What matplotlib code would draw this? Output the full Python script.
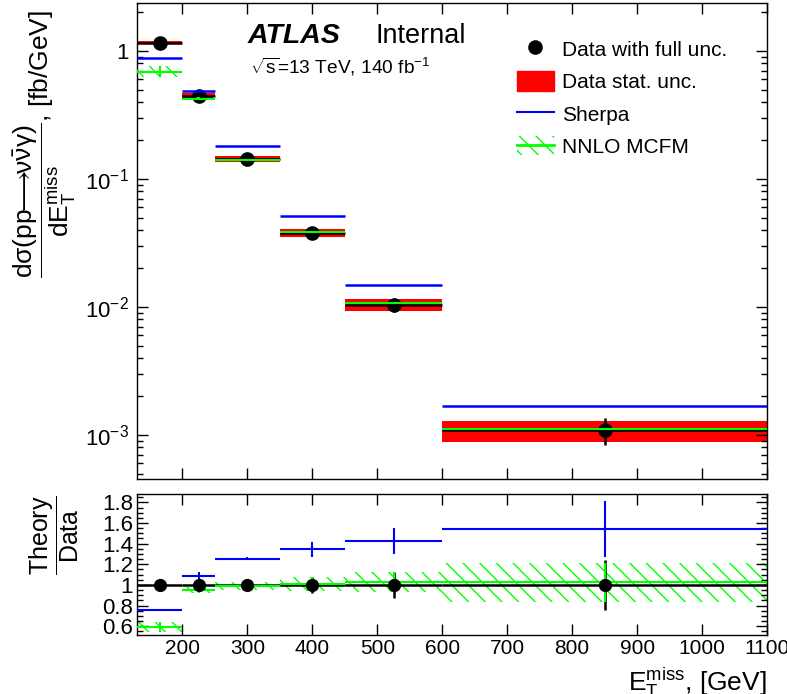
import numpy as np
import matplotlib
matplotlib.use("Agg")
import matplotlib.pyplot as plt
from matplotlib.lines import Line2D
from matplotlib.patches import Patch
from matplotlib.ticker import LogLocator, FuncFormatter, MultipleLocator, NullLocator, FixedLocator

plt.rcParams['font.family'] = ['Liberation Sans', 'DejaVu Sans']
plt.rcParams['mathtext.fontset'] = 'custom'
plt.rcParams['mathtext.rm'] = 'Liberation Sans'
plt.rcParams['mathtext.it'] = 'Liberation Sans:italic'
plt.rcParams['mathtext.bf'] = 'Liberation Sans:bold'
plt.rcParams['mathtext.sf'] = 'Liberation Sans'
plt.rcParams['hatch.color'] = '#00ff00'
plt.rcParams['hatch.linewidth'] = 1.0

# bin edges of E_T^miss [GeV]
bin_edges = [130, 200, 250, 350, 450, 600, 1100]

# measured cross section [fb/GeV] and relative uncertainties
data_xsec = [1.16, 0.447, 0.143, 0.038, 0.0104, 0.00109]
data_stat_rel = [0.025, 0.05, 0.05, 0.07, 0.10, 0.19]
data_tot_rel = [0.03, 0.06, 0.05, 0.08, 0.125, 0.24]

# theory / data ratios
sherpa_ratio = [0.755, 1.09, 1.255, 1.345, 1.425, 1.545]
sherpa_ratio_err = [0.005, 0.032, 0.015, 0.075, 0.125, 0.27]
nnlo_ratio = [0.595, 0.95, 0.99, 1.01, 1.03, 1.025]
nnlo_ratio_err = [0.05, 0.03, 0.035, 0.07, 0.10, 0.19]
# NNLO band drawn in the upper panel (relative)
nnlo_main_rel = [0.10, 0.02, 0.02, 0.02, 0.02, 0.02]

GREEN = '#00ff00'

edges = np.array(bin_edges, dtype=float)
lo, hi = edges[:-1], edges[1:]
centers = 0.5 * (lo + hi)
half = 0.5 * (hi - lo)
data = np.array(data_xsec)
stat = data * np.array(data_stat_rel)
tot = data * np.array(data_tot_rel)
sherpa = data * np.array(sherpa_ratio)
nnlo = data * np.array(nnlo_ratio)
nnlo_err = nnlo * np.array(nnlo_main_rel)

fig = plt.figure(figsize=(7.87, 6.94), dpi=100)
ax1 = fig.add_axes([0.17408, 0.3098, 0.8005, 0.68588])
ax2 = fig.add_axes([0.17408, 0.08501, 0.8005, 0.20317])

# main panel
ax1.bar(centers, 2 * stat, bottom=data - stat, width=hi - lo, color='red', lw=0, zorder=1)
ax1.errorbar(centers, data, xerr=half, yerr=tot, fmt='o', color='black', ms=9.5,
             lw=1.8, capsize=0, zorder=2)
for i in range(len(centers)):
    ax1.fill_between([lo[i], hi[i]], nnlo[i] - nnlo_err[i], nnlo[i] + nnlo_err[i],
                     facecolor='none', edgecolor=GREEN, hatch='\\\\', lw=0, zorder=3)
ax1.errorbar(centers, nnlo, xerr=half, yerr=nnlo_err, fmt='none', color=GREEN,
             lw=1.5, capsize=0, zorder=4)
ax1.hlines(sherpa, lo, hi, color='blue', lw=1.8, zorder=5)

ax1.set_yscale('log')
ax1.set_xlim(130, 1100)
ax1.set_ylim(4.53e-4, 2.37)
ax1.yaxis.set_major_locator(LogLocator(base=10, numticks=10))
ax1.yaxis.set_minor_locator(LogLocator(base=10, subs=np.arange(2, 10), numticks=20))
ax1.yaxis.set_major_formatter(FuncFormatter(
    lambda v, p: '1' if abs(v - 1) < 1e-9 else r'$10^{%d}$' % int(round(np.log10(v)))))
ax1.xaxis.set_major_locator(MultipleLocator(100))
ax1.xaxis.set_minor_locator(NullLocator())
ax1.tick_params(axis='x', labelbottom=False)

# ratio panel
for i in range(len(centers)):
    ax2.fill_between([lo[i], hi[i]], nnlo_ratio[i] - nnlo_ratio_err[i],
                     nnlo_ratio[i] + nnlo_ratio_err[i], facecolor='none',
                     edgecolor=GREEN, hatch='\\\\', lw=0, zorder=1)
ax2.errorbar(centers, np.ones(len(centers)), xerr=half, yerr=data_tot_rel, fmt='none',
             color='black', lw=1.8, capsize=0, zorder=2)
ax2.errorbar(centers, nnlo_ratio, xerr=half, yerr=nnlo_ratio_err, fmt='none',
             color=GREEN, lw=1.5, capsize=0, zorder=3)
ax2.plot(centers, np.ones(len(centers)), 'o', color='black', ms=8.5, zorder=4)
ax2.errorbar(centers, sherpa_ratio, xerr=half, yerr=sherpa_ratio_err, fmt='none',
             color='blue', lw=1.5, capsize=0, zorder=5)

ax2.set_xlim(130, 1100)
ax2.set_ylim(0.515, 1.881)
ax2.yaxis.set_major_locator(FixedLocator([0.6, 0.8, 1.0, 1.2, 1.4, 1.6, 1.8]))
ax2.yaxis.set_minor_locator(MultipleLocator(0.05))
ax2.yaxis.set_major_formatter(FuncFormatter(lambda v, p: '%g' % round(v, 1)))
ax2.xaxis.set_major_locator(MultipleLocator(100))
ax2.xaxis.set_minor_locator(NullLocator())

for ax in (ax1, ax2):
    ax.tick_params(which='both', direction='in', top=True, right=True, width=1.0)
    ax.tick_params(which='major', length=8)
    ax.tick_params(which='minor', length=4)
    for s in ax.spines.values():
        s.set_linewidth(1.0)
ax1.tick_params(axis='y', labelsize=16, pad=6)
ax2.tick_params(axis='y', labelsize=16, pad=3)
ax2.tick_params(axis='x', labelsize=15, pad=3)

# legend
handles = [
    Line2D([], [], marker='o', color='black', ls='none', ms=9.5),
    Patch(facecolor='red', edgecolor='red'),
    Line2D([], [], color='blue', lw=1.5),
    (Patch(facecolor='none', edgecolor=GREEN, hatch='\\\\', lw=0),
     Line2D([], [], color=GREEN, lw=2)),
]
labels = ['Data with full unc.', 'Data stat. unc.', 'Sherpa', 'NNLO MCFM']
fig.legend(handles, labels, loc='upper left', bbox_to_anchor=(0.6566, 0.9440),
           frameon=False, fontsize=15, handlelength=1.8, handleheight=1.05,
           handletextpad=0.37, labelspacing=0.56, borderpad=0, borderaxespad=0)

# labels
fig.text(248 / 787, 1 - 43 / 694, 'ATLAS', fontsize=20.5, weight='bold', style='italic',
         va='baseline')
fig.text(375 / 787, 1 - 43 / 694, 'Internal', fontsize=19.5, va='baseline')
fig.text(250 / 787, 1 - 74 / 694, r'$\sqrt{\mathrm{s}}$=13 TeV, 140 fb$^{-1}$',
         fontsize=13.8, va='baseline')

fig.text(45 / 787, 1 - 10 / 694,
         r'$\dfrac{\mathrm{d\sigma(pp}\!\!\longrightarrow\!\!\mathrm{\nu\bar{\nu}\gamma)}}'
         r'{\mathrm{dE}_{\mathrm{T}}^{\mathrm{miss}}}$, [fb/GeV]',
         rotation=90, ha='center', va='top', fontsize=19)
fig.text(54 / 787, 1 - 495 / 694, r'$\dfrac{\mathrm{Theory}}{\mathrm{Data}}$',
         rotation=90, ha='center', va='top', fontsize=18)
fig.text(767 / 787, 1 - 666 / 694, r'E$_{\mathrm{T}}^{\mathrm{miss}}$, [GeV]',
         ha='right', va='top', fontsize=19)

fig.savefig('out.png', dpi=100)
